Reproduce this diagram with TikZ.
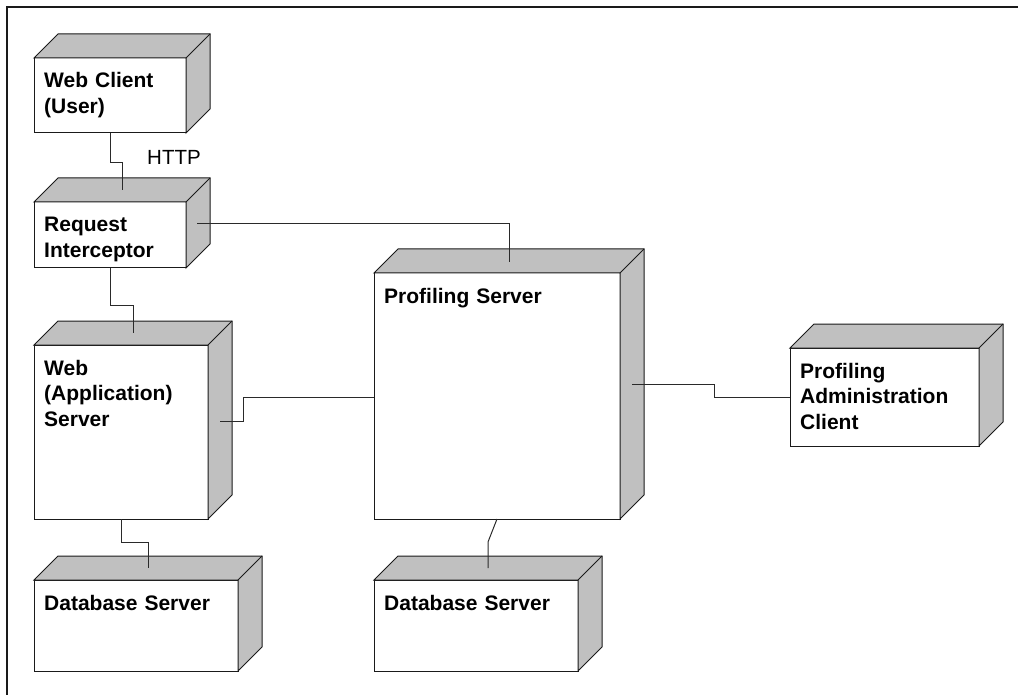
\documentclass[tikz,border=0pt]{standalone}
\usepackage{fontspec}
\setmainfont{Liberation Sans}
\usetikzlibrary{calc}

\definecolor{sidegray}{HTML}{C0C0C0}
\definecolor{edge}{HTML}{1A1A1A}
\definecolor{wire}{HTML}{2A2A2A}

\tikzset{
  x=1pt, y=-1pt,
  front/.style={draw=edge, fill=white, line width=1pt, inner sep=0pt, outer sep=0pt},
  sideface/.style={draw=edge, fill=sidegray, line width=1pt, line join=miter},
  lbl/.style={font=\bfseries\fontsize{21}{25.5}\selectfont, inner sep=0pt,
              text width=220pt, align=left},
  wirestyle/.style={draw=wire, line width=1pt},
  plain/.style={font=\fontsize{20.5}{24}\selectfont, inner sep=0pt}
}

% #1 name, #2 left, #3 top, #4 right, #5 bottom, #6 label
\newcommand\deploynode[6]{%
  \node[front, anchor=north west, minimum width={(#4-#2)*1pt},
        minimum height={(#5-#3)*1pt}] (#1) at (#2,#3) {};
  \path[sideface] (#1.north west) -- ($(#1.north west)+(24,-24)$)
     -- ($(#1.north east)+(24,-24)$) -- ($(#1.south east)+(24,-24)$)
     -- (#1.south east) -- (#1.north east) -- cycle;
  \draw[edge, line width=1pt] (#1.north east) -- ($(#1.north east)+(24,-24)$);
  \node[lbl, anchor=base west] (#1-t) at ($(#1.north west)+(10,30)$) {#6};
}

\begin{document}
\begin{tikzpicture}
\useasboundingbox (0,0) rectangle (1018,695);

% frame
\draw[line width=2pt, edge] (7,695) -- (7,7) -- (1018,7);

% nodes
\deploynode{wc}{34}{58}{186}{133}{Web Client\\(User)}
\deploynode{ri}{34}{202}{186}{268}{Request\\Interceptor}
\deploynode{ws}{34}{345}{208}{519}{Web\\(Application)\\Server}
\deploynode{db1}{34}{580}{238}{671}{Database Server}
\deploynode{ps}{374}{273}{620}{519}{Profiling Server}
\deploynode{db2}{374}{580}{578}{671}{Database Server}
\deploynode{pa}{790}{348}{979}{446}{Profiling\\Administration\\Client}

% connector end points inside the shaded faces
\coordinate (ri-top) at (122,190);
\coordinate (ws-top) at (133,333);
\coordinate (ps-top) at (509,262);
\coordinate (db1-top) at (148,568);
\coordinate (db2-top) at (488,568);
\coordinate (ri-side) at (197,224);
\coordinate (ws-side) at (220,421);
\coordinate (ps-side) at (632,384);

% connectors
\draw[wirestyle] (wc.south -| 110,0) -- (110,163) -- (122,163) -- (ri-top);
\node[plain, anchor=base west] (http) at (147,165) {HTTP};
\draw[wirestyle] (ri-side) -- (ri-side -| ps-top) -- (ps-top);
\draw[wirestyle] (ri.south -| 110,0) -- (110,306) -- (133,306) -- (ws-top);
\draw[wirestyle] (ws-side) -- (243,421) -- (243,397) -- (ps.west |- 0,397);
\draw[wirestyle] (ws.south -| 121,0) -- (121,542) -- (148,542) -- (db1-top);
\draw[wirestyle] (ps.south -| 497,0) -- (488,542) -- (db2-top);
\draw[wirestyle] (ps-side) -- (714,384) -- (714,397) -- (pa.west |- 0,397);
\end{tikzpicture}
\end{document}
